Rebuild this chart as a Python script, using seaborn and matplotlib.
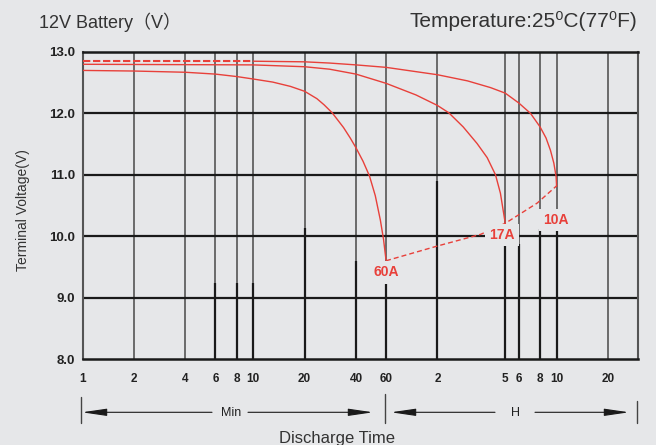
import matplotlib.pyplot as plt
import pandas as pd
import seaborn as sns
from matplotlib.lines import Line2D

BG = '#e6e7e9'
RED = '#e8403a'
INK = '#1a1a1a'
GREY = '#555555'

# discharge curves, time in minutes, voltage in V
t_60a = [1, 2, 4, 6, 8, 10, 13, 16.5, 20, 23.6, 26, 29, 33.8, 37, 40, 44, 48, 51.9, 55.6, 58, 60]
v_60a = [12.70, 12.69, 12.67, 12.64, 12.60, 12.56, 12.51, 12.44, 12.36, 12.24, 12.14, 12.01, 11.77,
         11.60, 11.44, 11.22, 10.98, 10.66, 10.26, 9.95, 9.61]
t_17a = [1, 10, 20, 28, 40, 60, 90, 120, 140, 170, 205, 235, 263, 281, 300]
v_17a = [12.80, 12.79, 12.76, 12.72, 12.64, 12.49, 12.30, 12.13, 12.01, 11.78, 11.51, 11.28, 11.00,
         10.70, 10.21]
t_10a = [1, 10, 20, 28, 40, 60, 120, 180, 246, 300, 360, 422, 480, 520, 552, 578, 596, 600]
v_10a = [12.85, 12.85, 12.84, 12.82, 12.79, 12.75, 12.63, 12.53, 12.42, 12.33, 12.17, 12.00, 11.78,
         11.60, 11.40, 11.19, 10.97, 10.81]
# final voltage line joining the curve ends
t_end = [60, 120, 215, 300, 462, 600]
v_end = [9.60, 9.84, 10.03, 10.21, 10.54, 10.82]

tick_minutes = [1, 2, 4, 6, 8, 10, 20, 40, 60, 120, 300, 360, 480, 600, 1200]
tick_labels = ['1', '2', '4', '6', '8', '10', '20', '40', '60', '2', '5', '6', '8', '10', '20']
y_ticks = [8, 9, 10, 11, 12, 13]

# where the vertical rules turn from grey to black (drawing quirk of the original)
black_x = [6, 8, 10, 20, 40, 60, 120, 300, 360, 480, 600]
black_top = [9.24, 9.24, 9.24, 10.14, 9.60, 9.26, 10.9, 9.87, 9.87, 10.12, 10.12]

labels = ['60A', '17A', '10A']
label_x = [60, 286, 591]
label_y = [9.41, 10.015, 10.26]

df = pd.concat([
    pd.DataFrame({'minutes': t_60a, 'volts': v_60a, 'current': '60A'}),
    pd.DataFrame({'minutes': t_17a, 'volts': v_17a, 'current': '17A'}),
    pd.DataFrame({'minutes': t_10a, 'volts': v_10a, 'current': '10A'}),
])
ends = pd.DataFrame({'minutes': t_end, 'volts': v_end})

sns.set_theme(style='white', rc={'axes.facecolor': BG, 'figure.facecolor': BG})
plt.rcParams['font.family'] = ['Liberation Sans', 'DejaVu Sans']

W, H = 656, 445
fig = plt.figure(figsize=(W / 100, H / 100), dpi=100)
ax = fig.add_axes([82.7 / W, 1 - 359 / H, (638 - 82.7) / W, (359 - 52) / H])
ax.set_xscale('log')

# grid
for m in tick_minutes[1:]:
    ax.axvline(m, color=GREY, lw=1.2, zorder=1)
ax.vlines(black_x, 8, black_top, color=INK, lw=1.6, zorder=1.5)
for v in y_ticks[1:-1]:
    ax.axhline(v, color=INK, lw=1.6, zorder=1.5)

# curves
for cur in labels:
    d = df[df.current == cur]
    if cur == '10A':
        sns.lineplot(data=d[d.minutes <= 10], x='minutes', y='volts', color=RED, lw=1.5,
                     linestyle=(0, (3.5, 1.3)), estimator=None, ax=ax, zorder=3)
        d = d[d.minutes >= 10]
    sns.lineplot(data=d, x='minutes', y='volts', color=RED, lw=1.0, estimator=None, ax=ax, zorder=3)
sns.lineplot(data=ends, x='minutes', y='volts', color=RED, lw=1.0, linestyle=(0, (3.6, 2.2)),
             estimator=None, ax=ax, zorder=3)

for lab, x, y in zip(labels, label_x, label_y):
    ax.text(x, y, lab, color=RED, fontsize=10, fontweight='bold', ha='center', va='center', zorder=5,
            bbox=dict(boxstyle='square,pad=0.3', fc=BG, ec='none'))

ax.set_xlim(1, 1800)
ax.set_ylim(8, 13)
ax.set_xticks(tick_minutes)
ax.set_xticklabels(tick_labels)
ax.xaxis.set_minor_locator(plt.NullLocator())
ax.set_yticks(y_ticks)
ax.set_yticklabels([f'{v:.1f}' for v in y_ticks])
ax.tick_params(length=0)
ax.tick_params(axis='x', pad=10, labelsize=8.5, labelcolor='#222222')
ax.tick_params(axis='y', pad=5.5, labelsize=9.5, labelcolor='#222222')
for t in ax.get_xticklabels() + ax.get_yticklabels():
    t.set_fontweight('bold')
ax.set_xlabel('')
ax.set_ylabel('')
for s in ['top', 'bottom']:
    ax.spines[s].set(color=INK, lw=1.8)
for s in ['left', 'right']:
    ax.spines[s].set(color=GREY, lw=1.5)


def fp(x, y):
    return (x / W, 1 - y / H)


# titles and axis captions
fig.text(*fp(39, 28.3), '12V Battery（V）', fontsize=13, color='#333333', va='baseline',
         family=['Liberation Sans', 'Noto Sans CJK SC'])
fig.text(*fp(637, 27.3), 'Temperature:25⁰C(77⁰F)', fontsize=15, color='#333333', ha='right',
         va='baseline', family=['Liberation Sans', 'DejaVu Sans'])
fig.text(*fp(23, 210), 'Terminal Voltage(V)', rotation=90, ha='center', va='center', fontsize=10,
         color='#333333')
fig.text(*fp(337, 443), 'Discharge Time', ha='center', va='baseline', fontsize=12, color='#333333')

# Min / H range arrows
arrow = dict(arrowstyle='-|>,head_length=1.5,head_width=0.22', color=INK, lw=0.8,
             shrinkA=0, shrinkB=0, mutation_scale=10)
ay = 412.3
for tip, tail in [(82, 212), (373, 248), (391, 495), (629, 535)]:
    ax.annotate('', xy=fp(tip, ay), xytext=fp(tail, ay), xycoords='figure fraction',
                textcoords='figure fraction', arrowprops=arrow, annotation_clip=False)
for x, y0, y1 in [(80.7, 396.7, 422.7), (385.3, 394, 423), (637.3, 400.7, 423)]:
    fig.add_artist(Line2D([x / W, x / W], [1 - y0 / H, 1 - y1 / H], color='#444444', lw=1,
                          transform=fig.transFigure))
fig.text(*fp(231, 413.3), 'Min', ha='center', va='center', fontsize=9, color='#222222')
fig.text(*fp(515, 413.3), 'H', ha='center', va='center', fontsize=9, color='#222222')

fig.savefig('out.png', dpi=100, facecolor=BG)
